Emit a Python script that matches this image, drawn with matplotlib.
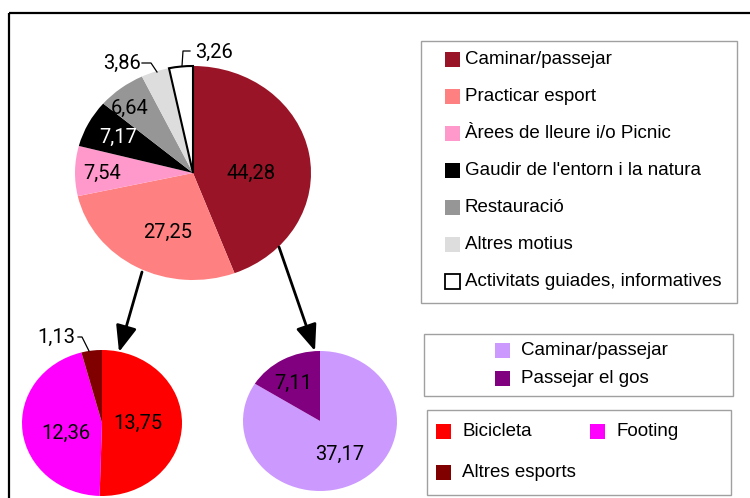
import matplotlib
matplotlib.use("Agg")
import matplotlib.pyplot as plt
from matplotlib.patches import Rectangle, FancyArrowPatch

plt.rcParams["font.family"] = ["Liberation Sans", "DejaVu Sans"]

W, H = 750, 498

# --- data ---
main_labels = ["Caminar/passejar", "Practicar esport", "Àrees de lleure i/o Picnic",
               "Gaudir de l'entorn i la natura", "Restauració", "Altres motius",
               "Activitats guiades, informatives"]
main_values = [44.28, 27.25, 7.54, 7.17, 6.64, 3.86, 3.26]
main_colors = ["#991426", "#FF8080", "#FF99CC", "#000000", "#969696", "#DDDDDD", "#FFFFFF"]

sport_labels = ["Bicicleta", "Footing", "Altres esports"]
sport_values = [13.75, 12.36, 1.13]
sport_colors = ["#FF0000", "#FF00FF", "#800000"]

walk_labels = ["Caminar/passejar", "Passejar el gos"]
walk_values = [37.17, 7.11]
walk_colors = ["#CC99FF", "#800080"]


def fmt(v):
    return f"{v:.2f}".replace(".", ",")


def pie_axes(fig, cx, cy, rx, ry):
    # axes box in pixel coords -> figure fraction, aspect auto gives the ellipse
    a = fig.add_axes([(cx - rx) / W, (H - cy - ry) / H, 2 * rx / W, 2 * ry / H])
    a.axis("off")
    return a


def fix(a):
    a.set_xlim(-1, 1)
    a.set_ylim(-1, 1)
    a.set_aspect("auto")


fig = plt.figure(figsize=(W / 100, H / 100), dpi=100)

ax1 = pie_axes(fig, 193, 173, 118, 107)
w1, _ = ax1.pie(main_values, colors=main_colors, startangle=90, counterclock=False, frame=False)
fix(ax1)
w1[-1].set_edgecolor("black")
w1[-1].set_linewidth(1.5)

ax2 = pie_axes(fig, 102, 423, 80, 73)
ax2.pie(sport_values, colors=sport_colors, startangle=90, counterclock=False, frame=False)
fix(ax2)

ax3 = pie_axes(fig, 320, 421, 77, 70)
ax3.pie(walk_values, colors=walk_colors, startangle=90, counterclock=False, frame=False)
fix(ax3)

# overlay in pixel coordinates for frame, labels, arrows and legends
ov = fig.add_axes([0, 0, 1, 1], facecolor="none")
ov.set_xlim(0, W)
ov.set_ylim(H, 0)
ov.axis("off")
ov.set_zorder(5)

ov.add_patch(Rectangle((9, 13), 780, 520, fill=False, lw=1.6, ec="black", clip_on=False))

num = dict(fontsize=14.5, ha="center", va="center", family=["Roboto", "DejaVu Sans"])

# top pie labels
main_pos = [(251, 173), (168, 232), (102, 173), (118, 137), (130, 108), (122, 63), (214, 52)]
for (x, y), v, c in zip(main_pos, main_values, main_colors):
    ov.text(x, y, fmt(v), color="white" if c == "#000000" else "black", **num)
ov.plot([142, 151, 157], [63, 63, 72], color="black", lw=0.9)
ov.plot([190, 183, 182], [51, 51, 66], color="black", lw=0.9)

# sport pie labels
sport_pos = [(138, 423), (66, 433), (56, 337)]
for (x, y), v in zip(sport_pos, sport_values):
    ov.text(x, y, fmt(v), color="black", **num)
ov.plot([78, 82, 89], [337, 337, 351], color="black", lw=0.9)

# walk pie labels
walk_pos = [(340, 454), (293, 383)]
for (x, y), v in zip(walk_pos, walk_values):
    ov.text(x, y, fmt(v), color="black", **num)

# arrows
for (x0, y0), (x1, y1) in [((142, 272), (119, 352)), ((279, 247), (315, 351))]:
    ov.add_patch(FancyArrowPatch((x0, y0), (x1, y1), arrowstyle="-|>,head_length=10,head_width=4",
                                 mutation_scale=1.6, color="black", lw=2, shrinkA=0, shrinkB=0))

leg_fs = 13.5
box_ec = "#A0A0A0"


def square(x, y, color, edge=False):
    ov.add_patch(Rectangle((x, y - 7.5), 15, 15, fc=color,
                           ec="black" if edge else color, lw=1.3 if edge else 0))


# legend 1
ov.add_patch(Rectangle((421, 41), 316, 262, fill=False, ec=box_ec, lw=1))
for i, (lab, c) in enumerate(zip(main_labels, main_colors)):
    y = 59 + i * 37.1
    square(445, y, c, edge=(c == "#FFFFFF"))
    ov.text(465, y, lab, fontsize=leg_fs, va="center", ha="left")

# legend 2
ov.add_patch(Rectangle((424, 334), 309, 62, fill=False, ec=box_ec, lw=1))
for i, (lab, c) in enumerate(zip(walk_labels, walk_colors)):
    y = 350 + i * 28
    square(495, y, c)
    ov.text(521, y, lab, fontsize=leg_fs, va="center", ha="left")

# legend 3
ov.add_patch(Rectangle((427, 410), 304, 85, fill=False, ec=box_ec, lw=1))
sport_leg_pos = [(436, 431), (590, 431), (436, 472)]
for (x, y), lab, c in zip(sport_leg_pos, sport_labels, sport_colors):
    square(x, y, c)
    ov.text(x + 26, y, lab, fontsize=leg_fs, va="center", ha="left")

fig.savefig("out.png", dpi=100)
